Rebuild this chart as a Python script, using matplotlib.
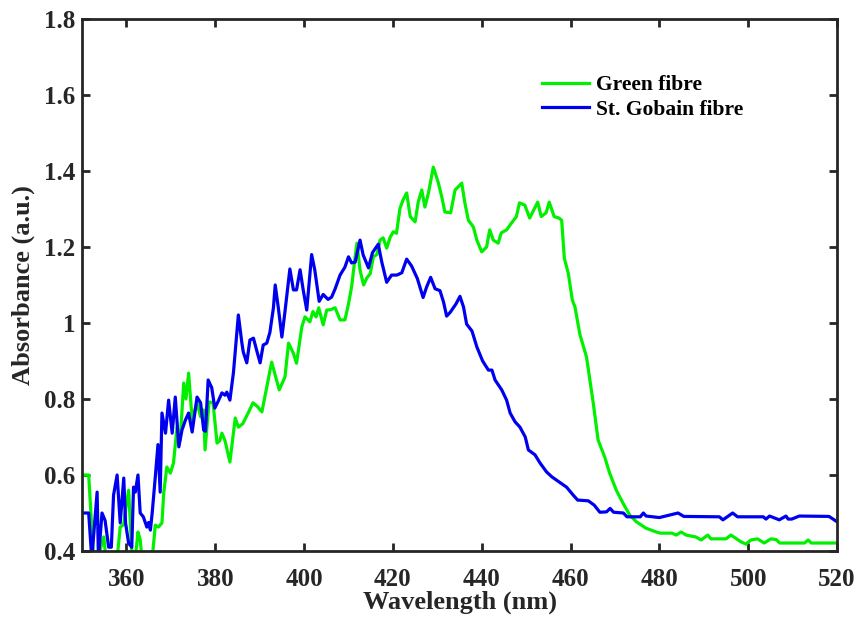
import matplotlib
matplotlib.use("Agg")
import matplotlib.pyplot as plt

green_x = [350.0, 351.5, 352.6, 353.5, 354.9, 355.4, 357.9, 358.6, 359.4, 359.8, 360.5, 361.3, 362.0, 362.6, 363.1, 363.5,
           365.8, 366.5, 367.2, 368.0, 368.4, 369.1, 369.9, 370.6, 371.4, 372.1, 372.9, 373.4, 374.0, 374.8, 375.9, 376.7,
           377.4, 377.7, 378.6, 379.5, 380.4, 381.0, 381.5, 382.2, 383.3, 384.5, 385.2, 386.2, 387.4, 388.5, 389.5, 390.5,
           391.9, 392.7, 394.4, 395.7, 396.5, 397.6, 398.3, 399.5, 400.2, 401.3, 402.0, 402.7, 403.3, 404.3, 405.1, 406.0,
           407.0, 408.1, 409.2, 410.0, 410.7, 411.5, 411.9, 412.6, 413.4, 414.1, 414.9, 415.6, 416.4, 417.1, 417.8, 418.6,
           419.4, 420.1, 420.8, 421.6, 422.3, 423.1, 423.9, 425.0, 425.7, 426.5, 427.2, 428.0, 429.1, 430.2, 431.0, 431.7,
           433.0, 434.0, 434.7, 435.5, 436.2, 437.0, 438.1, 438.9, 440.0, 441.1, 441.8, 442.6, 443.7, 444.4, 445.6, 446.7,
           447.8, 448.5, 449.7, 450.8, 451.9, 452.6, 453.4, 454.5, 455.2, 456.3, 457.4, 458.0, 458.6, 459.5, 460.4, 461.0,
           462.1, 463.6, 465.1, 466.2, 467.7, 468.8, 470.3, 471.8, 473.3, 474.8, 477.0, 479.3, 480.2, 482.8, 483.8, 484.9,
           486.0, 488.2, 489.4, 490.9, 491.6, 495.0, 496.1, 498.4, 499.5, 500.6, 502.1, 503.6, 505.1, 506.3, 507.1, 512.7,
           513.5, 514.2, 520.0]
green_y = [0.60, 0.60, 0.38, 0.38, 0.437, 0.38, 0.38, 0.463, 0.47, 0.508, 0.56, 0.38, 0.38, 0.45, 0.43, 0.38,
           0.38, 0.468, 0.463, 0.474, 0.553, 0.621, 0.605, 0.632, 0.726, 0.692, 0.842, 0.80, 0.868, 0.745, 0.79, 0.753,
           0.771, 0.666, 0.792, 0.79, 0.684, 0.69, 0.71, 0.69, 0.634, 0.75, 0.726, 0.735, 0.763, 0.79, 0.78, 0.766,
           0.85, 0.897, 0.824, 0.858, 0.947, 0.92, 0.894, 0.99, 1.016, 1.003, 1.03, 1.016, 1.04, 0.995, 1.034, 1.035,
           1.04, 1.008, 1.008, 1.05, 1.095, 1.174, 1.21, 1.139, 1.10, 1.118, 1.13, 1.174, 1.18, 1.218, 1.224, 1.197,
           1.226, 1.24, 1.236, 1.302, 1.324, 1.342, 1.28, 1.266, 1.318, 1.35, 1.305, 1.342, 1.41, 1.37, 1.332, 1.292,
           1.29, 1.35, 1.358, 1.368, 1.316, 1.27, 1.253, 1.218, 1.187, 1.20, 1.245, 1.218, 1.21, 1.237, 1.245, 1.263,
           1.28, 1.316, 1.31, 1.276, 1.302, 1.318, 1.28, 1.29, 1.318, 1.28, 1.276, 1.27, 1.17, 1.13, 1.06, 1.042,
           0.97, 0.91, 0.79, 0.692, 0.647, 0.605, 0.56, 0.526, 0.495, 0.477, 0.46, 0.45, 0.447, 0.447, 0.442, 0.45,
           0.442, 0.437, 0.429, 0.442, 0.432, 0.432, 0.442, 0.424, 0.418, 0.429, 0.432, 0.421, 0.432, 0.43, 0.421, 0.421,
           0.429, 0.421, 0.421]

blue_x = [350.0, 351.5, 352.2, 353.4, 353.7, 354.5, 355.2, 356.0, 356.6, 357.1, 357.9, 358.6, 359.4, 359.8, 360.5, 361.2,
          361.6, 362.0, 362.6, 363.1, 363.8, 364.6, 365.0, 365.4, 365.8, 366.5, 367.1, 367.6, 368.0, 368.8, 369.5, 370.3,
          371.0, 371.8, 372.5, 373.3, 374.0, 374.8, 375.9, 376.7, 377.4, 377.8, 378.4, 379.2, 379.9, 380.7, 381.5, 382.2,
          382.6, 383.3, 384.1, 385.2, 386.0, 386.3, 387.1, 387.8, 388.6, 389.3, 390.1, 390.8, 391.6, 392.3, 393.1, 393.5,
          394.2, 395.0, 395.7, 396.8, 397.6, 398.3, 399.1, 399.8, 400.6, 401.3, 401.7, 402.4, 403.4, 404.3, 405.4, 406.2,
          407.0, 408.1, 409.2, 410.0, 410.7, 411.5, 412.6, 413.3, 414.5, 415.4, 416.7, 417.5, 418.6, 419.7, 420.9, 422.0,
          423.1, 424.2, 425.5, 426.8, 427.6, 428.5, 429.5, 430.6, 431.4, 432.1, 432.9, 434.2, 435.1, 435.9, 436.6, 437.8,
          438.9, 440.2, 441.5, 442.3, 443.0, 444.5, 445.6, 446.4, 447.5, 448.6, 449.8, 450.5, 452.0, 453.1, 454.6, 455.8,
          457.4, 459.1, 460.6, 461.6, 464.0, 465.3, 466.6, 468.1, 468.9, 469.7, 471.9, 472.7, 475.7, 476.4, 477.0, 480.0,
          484.2, 485.5, 493.5, 494.3, 496.5, 497.6, 503.4, 504.0, 504.8, 507.0, 508.5, 509.0, 509.8, 511.5, 518.2, 520.0]
blue_y = [0.50, 0.50, 0.38, 0.555, 0.38, 0.50, 0.48, 0.41, 0.41, 0.547, 0.60, 0.474, 0.592, 0.474, 0.42, 0.41,
          0.568, 0.555, 0.60, 0.50, 0.49, 0.463, 0.475, 0.455, 0.50, 0.595, 0.68, 0.555, 0.763, 0.71, 0.797, 0.71,
          0.805, 0.674, 0.718, 0.745, 0.763, 0.713, 0.805, 0.79, 0.718, 0.715, 0.85, 0.83, 0.776, 0.795, 0.816, 0.81,
          0.818, 0.797, 0.87, 1.021, 0.947, 0.924, 0.895, 0.955, 0.96, 0.929, 0.895, 0.942, 0.947, 0.975, 1.04, 1.10,
          1.04, 0.963, 1.03, 1.142, 1.087, 1.087, 1.14, 1.087, 1.034, 1.126, 1.18, 1.14, 1.057, 1.075, 1.062, 1.068,
          1.09, 1.126, 1.147, 1.174, 1.158, 1.16, 1.218, 1.179, 1.145, 1.185, 1.207, 1.16, 1.107, 1.126, 1.126, 1.132,
          1.168, 1.15, 1.117, 1.067, 1.095, 1.12, 1.09, 1.085, 1.055, 1.018, 1.028, 1.05, 1.07, 1.042, 0.997, 0.979,
          0.937, 0.90, 0.876, 0.876, 0.85, 0.824, 0.797, 0.763, 0.74, 0.726, 0.70, 0.666, 0.653, 0.632, 0.608, 0.595,
          0.582, 0.568, 0.547, 0.534, 0.532, 0.521, 0.502, 0.503, 0.512, 0.502, 0.50, 0.49, 0.49, 0.50, 0.492, 0.488,
          0.50, 0.491, 0.49, 0.482, 0.50, 0.49, 0.49, 0.484, 0.492, 0.482, 0.492, 0.484, 0.484, 0.492, 0.491, 0.477]

x_ticks = [360, 380, 400, 420, 440, 460, 480, 500, 520]
y_ticks = [0.4, 0.6, 0.8, 1.0, 1.2, 1.4, 1.6, 1.8]
y_tick_labels = ["0.4", "0.6", "0.8", "1", "1.2", "1.4", "1.6", "1.8"]
series_labels = ["Green fibre", "St. Gobain fibre"]

plt.rcParams['font.family'] = ['Liberation Serif', 'DejaVu Serif']
plt.rcParams['font.weight'] = 'bold'

fig = plt.figure(figsize=(8.57, 6.18), dpi=100)
ax = fig.add_axes([0.0957, 0.1084, 0.881, 0.861])

ax.plot(green_x, green_y, color='#00f000', lw=2.3, label=series_labels[0])
ax.plot(blue_x, blue_y, color='#0000f0', lw=2.3, label=series_labels[1])

ax.set_xlim(350, 520)
ax.set_ylim(0.4, 1.8)
ax.set_xticks(x_ticks)
ax.set_yticks(y_ticks)
ax.set_yticklabels(y_tick_labels)
ax.tick_params(direction='in', length=6, width=2, top=True, right=True,
               labelsize=18, colors='#262626', pad=5)
ax.tick_params(axis='x', pad=12)
for lab in ax.get_xticklabels() + ax.get_yticklabels():
    lab.set_fontweight('bold')
    lab.set_color('#262626')
for s in ax.spines.values():
    s.set_linewidth(2)
    s.set_color('#262626')

ax.set_xlabel("Wavelength (nm)", fontsize=19, fontweight='bold', labelpad=0, color='#262626')
ax.set_ylabel("Absorbance (a.u.)", fontsize=19, fontweight='bold', labelpad=6, color='#262626')

leg = ax.legend(loc='upper left', bbox_to_anchor=(0.598, 0.91), frameon=False,
                prop={'weight': 'bold', 'size': 15.5}, handlelength=2.2,
                handletextpad=0.3, labelspacing=0.2, borderaxespad=0)

fig.savefig("out.png", dpi=100)
